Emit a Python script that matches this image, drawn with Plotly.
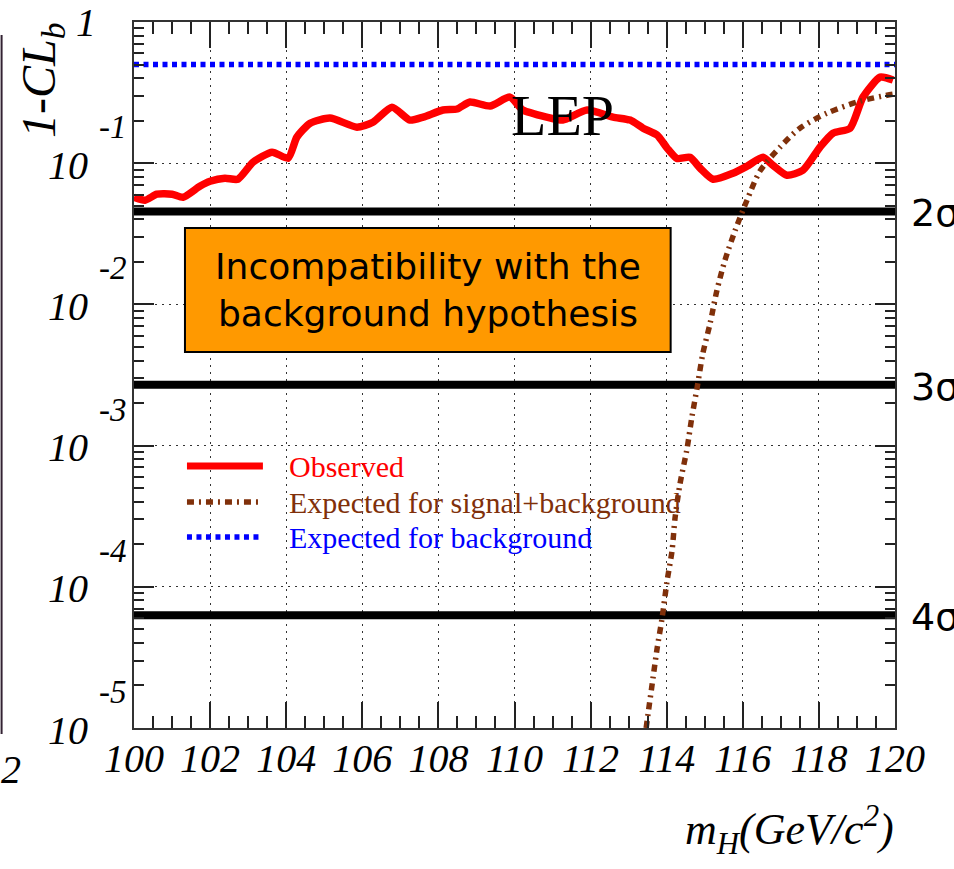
import plotly.graph_objects as go
import numpy as np

# ---------------- data ----------------
obs_mass = [100.0, 100.29, 100.6, 101.0, 101.29, 101.73, 102.0, 102.39, 102.73, 103.13,
            103.63, 104.05, 104.28, 104.63, 105.15, 105.86, 106.28, 106.78, 107.25, 107.6,
            108.12, 108.49, 108.83, 109.36, 109.88, 110.22, 110.85, 111.27, 111.91, 112.59,
            113.04, 113.38, 113.75, 114.01, 114.27, 114.61, 114.88, 115.22, 115.74, 116.11,
            116.53, 116.79, 117.16, 117.58, 118.03, 118.37, 118.82, 119.16, 119.61, 119.95]
obs_clb = [0.0574, 0.0547, 0.0603, 0.0603, 0.0574, 0.0687, 0.0745, 0.0783, 0.077, 0.1017,
           0.1197, 0.1085, 0.153, 0.192, 0.209, 0.18, 0.195, 0.249, 0.202, 0.212,
           0.238, 0.242, 0.271, 0.254, 0.294, 0.238, 0.212, 0.202, 0.238, 0.212,
           0.202, 0.177, 0.158, 0.128, 0.108, 0.11, 0.0922, 0.077, 0.0849, 0.0952,
           0.11, 0.0968, 0.0822, 0.0891, 0.13, 0.163, 0.177, 0.294, 0.407, 0.388]

sb_mass = [113.46, 113.51, 113.64, 113.75, 113.88, 114.01, 114.14, 114.22, 114.35, 114.53,
           114.66, 114.8, 114.95, 115.14, 115.32, 115.53, 115.8, 116.11, 116.45, 116.98,
           117.5, 118.21, 119.08, 119.79, 119.95]
sb_clb = [1.0e-5, 1.26e-5, 2.26e-5, 3.69e-5, 6.03e-5, 1.10e-4, 1.80e-4, 3.08e-4, 5.37e-4, 9.37e-4,
          1.58e-3, 2.58e-3, 4.49e-3, 7.33e-3, 1.257e-2, 2.05e-2, 3.35e-2, 5.47e-2, 8.78e-2, 0.130,
          0.177, 0.226, 0.275, 0.303, 0.308]

bkg_mass = [100.0, 120.0]
bkg_clb = [0.5, 0.5]

sigma_names = ["2σ", "3σ", "4σ"]
sigma_levels = [0.0455, 0.0027, 6.3e-5]

x_ticks = [100, 102, 104, 106, 108, 110, 112, 114, 116, 118, 120]
y_exponents = [1, 2, 3, 4, 5]

legend_labels = ["Observed", "Expected for signal+background", "Expected for background"]

# ---------------- styles ----------------
RED = "rgb(255,0,0)"
BROWN = "rgb(128,48,10)"
BLUE = "rgb(0,0,255)"
SERIF = "Liberation Serif"
SANS = "DejaVu Sans"

W, H = 954, 869
L, R, T, B = 134, 58.5, 22, 141
pw, ph = W - L - R, H - T - B


def px(x):
    return (x - L) / pw


def py(y):
    return (H - B - y) / ph


fig = go.Figure()

# sigma lines
for v in sigma_levels:
    fig.add_trace(go.Scatter(x=[100, 120], y=[v, v], mode="lines",
                             line=dict(color="black", width=8), showlegend=False,
                             hoverinfo="skip"))

fig.add_trace(go.Scatter(x=bkg_mass, y=bkg_clb, mode="lines",
                         line=dict(color=BLUE, width=5.5, dash="5px,4.5px"),
                         showlegend=False))
fig.add_trace(go.Scatter(x=obs_mass, y=obs_clb, mode="lines",
                         line=dict(color=RED, width=7.5, shape="spline", smoothing=0.6),
                         showlegend=False))
fig.add_trace(go.Scatter(x=sb_mass, y=sb_clb, mode="lines",
                         line=dict(color=BROWN, width=5.5, shape="spline", smoothing=0.8,
                                   dash="7px,5px,2px,5px"),
                         showlegend=False))

fig.update_xaxes(range=[100, 120], tickmode="array", tickvals=x_ticks,
                 ticktext=[str(t) for t in x_ticks],
                 ticks="inside", ticklen=26, tickwidth=1.5, tickcolor="#222",
                 minor=dict(dtick=0.5, tick0=100, ticks="inside", ticklen=12,
                            tickwidth=1.5, tickcolor="#222", showgrid=False),
                 showgrid=True, gridcolor="#333", griddash="2px,5px", gridwidth=1.2,
                 showline=True, linecolor="#333", linewidth=2, mirror="ticks",
                 tickfont=dict(family=SERIF, size=40, color="black", style="italic"),
                 ticklabelstandoff=-6,
                 zeroline=False)
fig.update_yaxes(type="log", range=[-5, 0], dtick=1,
                 ticks="inside", ticklen=20, tickwidth=1.5, tickcolor="#222",
                 minor=dict(dtick="D1", ticks="inside", ticklen=10, tickwidth=1.5,
                            tickcolor="#222", showgrid=False),
                 showgrid=True, gridcolor="#333", griddash="2px,5px", gridwidth=1.2,
                 showline=True, linecolor="#333", linewidth=2, mirror="ticks",
                 showticklabels=False, zeroline=False)

ann = []
shapes = []


def note(x, y, text, size, family=SERIF, color="black", xanchor="center",
         yanchor="middle", xref="paper", yref="paper", **kw):
    ann.append(dict(x=x, y=y, xref=xref, yref=yref, text=text, showarrow=False,
                    xanchor=xanchor, yanchor=yanchor,
                    font=dict(family=family, size=size, color=color), **kw))


# y tick labels
note(px(86), py(23), "<i>1</i>", 40)
for n in y_exponents:
    note(px(68), -n, "<i>10</i>", 40, yref="y", yshift=-2)
    note(px(113), -n, "<i>-%d</i>" % n, 33, yref="y", yshift=36)

# axis titles
note(px(42), py(80), "<i>1-CL<sub>b</sub></i>", 48, textangle=-90)
note(px(897), py(830), "<i>m<sub>H</sub>(GeV/c<sup>2</sup>)</i>", 44, xanchor="right")

# LEP label
note(px(563), py(115), "LEP", 58)

# sigma labels
for name, v in zip(sigma_names, sigma_levels):
    note(px(910), np.log10(v), name, 38, family=SANS, xanchor="left", yref="y", yshift=-2)

# orange box
shapes.append(dict(type="rect", xref="paper", yref="paper",
                   x0=px(185), x1=px(671), y0=py(352), y1=py(228),
                   fillcolor="rgb(255,153,0)", line=dict(color="black", width=2),
                   layer="above"))
note(px(428), py(290), "Incompatibility with the<br>background hypothesis", 36,
     family=SANS, align="center")

# legend (manual)
leg_y = [466, 502, 537]
leg_colors = [RED, BROWN, BLUE]
leg_styles = [dict(width=7), dict(width=5.5, dash="7px,5px,2px,5px"),
              dict(width=5.5, dash="5px,4.5px")]
for lab, yy, c, st in zip(legend_labels, leg_y, leg_colors, leg_styles):
    shapes.append(dict(type="line", xref="paper", yref="paper",
                       x0=px(187), x1=px(263), y0=py(yy), y1=py(yy),
                       line=dict(color=c, **st), layer="above"))
    note(px(287), py(yy), lab, 30, color=c, xanchor="left")

# neighbouring-figure remnants at the left edge
shapes.append(dict(type="line", xref="paper", yref="paper",
                   x0=px(1.5), x1=px(1.5), y0=py(35), y1=py(734),
                   line=dict(color="#332233", width=2)))
note(px(-1), py(769), "<i>2</i>", 40, xanchor="left")

fig.update_layout(width=W, height=H, margin=dict(l=L, r=R, t=T, b=B),
                  paper_bgcolor="white", plot_bgcolor="white",
                  showlegend=False, annotations=ann, shapes=shapes)

fig.write_html("out.html", config={"displayModeBar": False},
               post_script="document.body.style.margin='0';document.body.style.overflow='hidden';")
